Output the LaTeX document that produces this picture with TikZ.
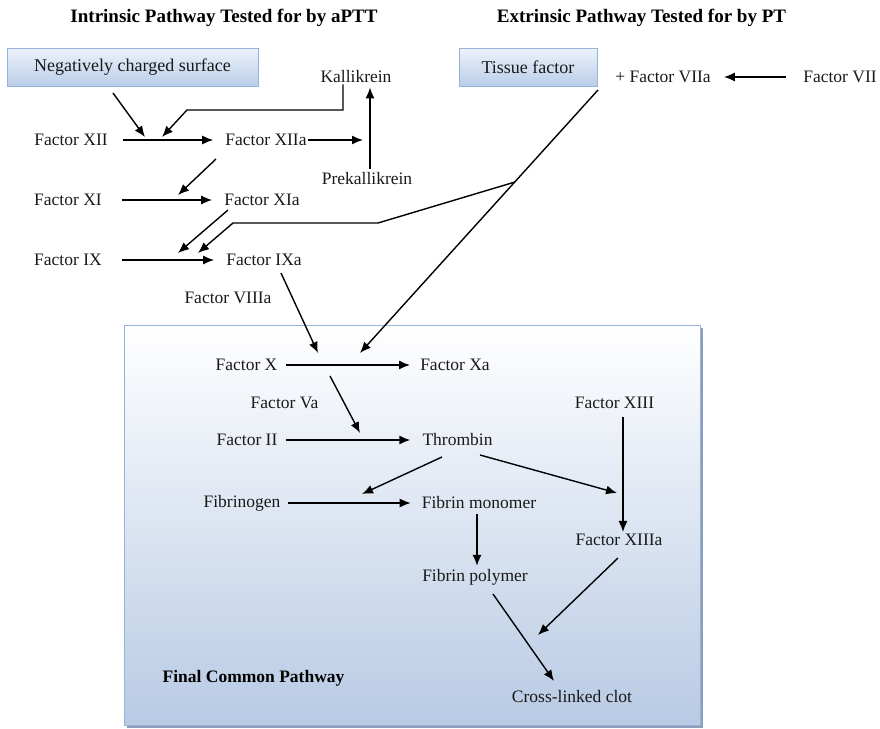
\documentclass[tikz,border=0pt]{standalone}
\usepackage{fontspec}
\setmainfont{Liberation Serif}
\usetikzlibrary{arrows.meta}
\definecolor{boxtop}{RGB}{236,242,250}
\definecolor{boxbot}{RGB}{186,206,232}
\definecolor{boxline}{RGB}{150,180,218}
\definecolor{bigbot}{RGB}{184,202,228}
\definecolor{shadowc}{RGB}{140,158,186}
\begin{document}
\begin{tikzpicture}[x=1pt,y=-1pt,
  lbl/.style={font=\fontsize{17.5}{20}\selectfont, inner sep=1pt, text=black!90},
  ttl/.style={font=\fontsize{19}{22}\selectfont\bfseries, inner sep=0pt},
  boldlbl/.style={font=\fontsize{17.5}{20}\selectfont\bfseries, inner sep=1pt},
  srcbox/.style={lbl, draw=boxline, line width=1pt, top color=boxtop, bottom color=boxbot, minimum height=38pt},
  arr/.style={-{Latex[length=11pt,width=9pt]}, line width=1.4pt}]
\useasboundingbox (0,0) rectangle (880,728);

% final common pathway panel
\fill[shadowc] (127,328) rectangle (703,728);
\shade[top color=white, bottom color=bigbot, draw=boxline, line width=1pt] (124,325) rectangle (700,725);

% titles
\node[ttl] (t1) at (224,18) {Intrinsic Pathway Tested for by aPTT};
\node[ttl] (t2) at (641.5,18) {Extrinsic Pathway Tested for by PT};

% source boxes
\node[srcbox, minimum width=251pt, font=\fontsize{18}{20}\selectfont] (ns) at (132.5,67) {Negatively charged surface};
\node[srcbox, minimum width=138pt, font=\fontsize{18}{20}\selectfont] (tf) at (528,67) {Tissue factor};

% labels
\node[lbl] (kal) at (356,77) {Kallikrein};
\node[lbl] (f7a) at (663,77) {+ Factor VIIa};
\node[lbl] (f7) at (840,77) {Factor VII};
\node[lbl] (f12) at (71,140) {Factor XII};
\node[lbl] (f12a) at (266,140) {Factor XIIa};
\node[lbl] (pk) at (367,179) {Prekallikrein};
\node[lbl] (f11) at (68,200) {Factor XI};
\node[lbl] (f11a) at (262,200) {Factor XIa};
\node[lbl] (f9) at (68,260) {Factor IX};
\node[lbl] (f9a) at (264,260) {Factor IXa};
\node[lbl] (f8a) at (228,298) {Factor VIIIa};
\node[lbl] (f10) at (246.5,365) {Factor X};
\node[lbl] (f10a) at (455,365) {Factor Xa};
\node[lbl] (f5a) at (284.5,403) {Factor Va};
\node[lbl] (f13) at (614.5,403) {Factor XIII};
\node[lbl] (f2) at (247,440) {Factor II};
\node[lbl] (thr) at (457.5,440) {Thrombin};
\node[lbl] (fbg) at (242,503) {Fibrinogen};
\node[lbl] (fm) at (479,503) {Fibrin monomer};
\node[lbl] (f13a) at (619,540) {Factor XIIIa};
\node[lbl] (fp) at (475,577) {Fibrin polymer};
\node[boldlbl] (fcp) at (253.5,678) {Final Common Pathway};
\node[lbl] (clot) at (572,697) {Cross-linked clot};

% helper coordinates
\coordinate (pkv) at (370,140);
\coordinate (nsS) at (113,93);
\coordinate (nsT) at (145,137);
\coordinate (kb) at (343,110);
\coordinate (kc) at (187,110);
\coordinate (kT) at (162,137);
\coordinate (x12S) at (216,159);
\coordinate (x12T) at (178,195);
\coordinate (x11S) at (228,210);
\coordinate (x11T) at (178,253);
\coordinate (tfS) at (598,90);
\coordinate (tfT) at (360,353);
\coordinate (brS) at (515,182);
\coordinate (brB) at (378,223);
\coordinate (brC) at (233,223);
\coordinate (brT) at (198,253);
\coordinate (x9S) at (281,273);
\coordinate (x9T) at (318,353);
\coordinate (x10S) at (330,376);
\coordinate (x10T) at (360,433);
\coordinate (thS1) at (442,457);
\coordinate (thT1) at (362,494);
\coordinate (thS2) at (480,455);
\coordinate (thT2) at (617,493);
\coordinate (x13S) at (618,558);
\coordinate (x13T) at (538,635);
\coordinate (fpS) at (493,594);
\coordinate (fpT) at (554,681);

% horizontal conversions
\draw[arr, shorten <=14pt, shorten >=11pt] (f12) -- (f12a);
\draw[arr, shorten <=19pt, shorten >=11pt] (f11) -- (f11a);
\draw[arr, shorten <=19pt, shorten >=11pt] (f9) -- (f9a);
\draw[arr, shorten <=7pt, shorten >=9pt] (f10) -- (f10a);
\draw[arr, shorten <=7pt, shorten >=11pt] (f2) -- (thr);
\draw[arr, shorten <=6pt, shorten >=10pt] (fbg) -- (fm);
\draw[arr, shorten <=16pt, shorten >=12pt] (f7) -- (f7a);
\draw[arr, shorten >=7pt] (f12a.east) -- (pkv);

% vertical conversions
\draw[arr, shorten <=3pt, shorten >=3pt] (pkv |- pk.north) -- (pkv |- kal.south);
\draw[arr, shorten <=7pt, shorten >=1pt] ([xshift=8.5pt]f13.south) -- ([xshift=4pt]f13a.north);
\draw[arr, shorten <=4pt, shorten >=2pt] ([xshift=-2pt]fm.south) -- ([xshift=2pt]fp.north);

% activating arrows
\draw[arr] (nsS) -- (nsT);
\draw[arr] (kal.south -| kb) -- (kb) -- (kc) -- (kT);
\draw[arr] (x12S) -- (x12T);
\draw[arr] (x11S) -- (x11T);
\draw[arr] (tfS) -- (tfT);
\draw[arr] (brS) -- (brB) -- (brC) -- (brT);
\draw[arr] (x9S) -- (x9T);
\draw[arr] (x10S) -- (x10T);
\draw[arr] (thS1) -- (thT1);
\draw[arr] (thS2) -- (thT2);
\draw[arr] (x13S) -- (x13T);
\draw[arr] (fpS) -- (fpT);
\end{tikzpicture}
\end{document}
